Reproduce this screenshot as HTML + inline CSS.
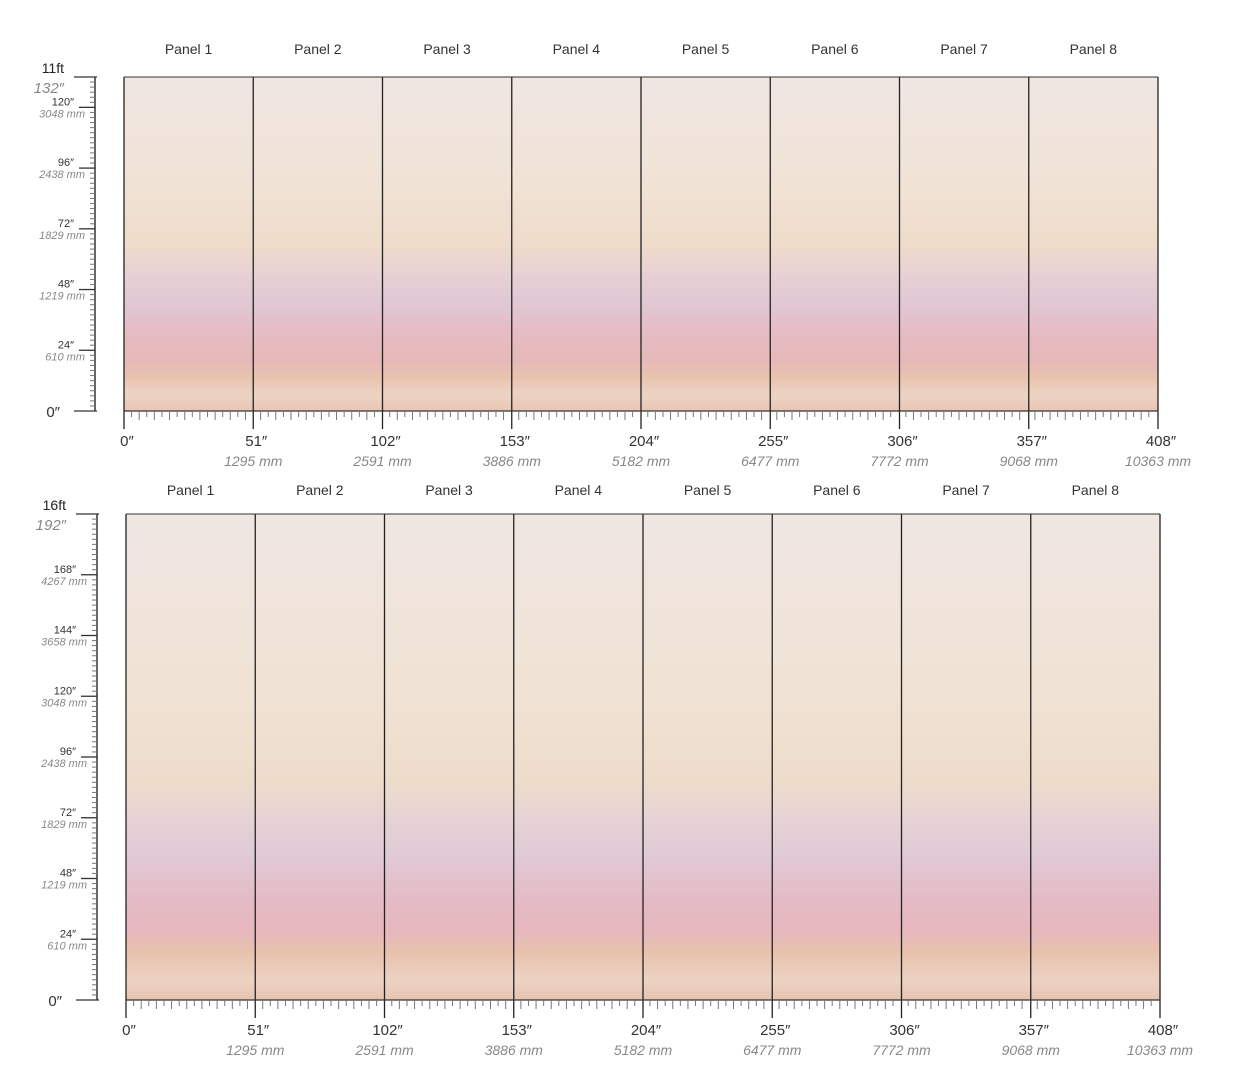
<!DOCTYPE html><html><head><meta charset="utf-8"><style>
body{margin:0;background:#fff;width:1250px;height:1077px;overflow:hidden}
svg{display:block}
text{font-family:"Liberation Sans",sans-serif}
</style></head><body>
<svg id="s" width="1250" height="1077" xmlns="http://www.w3.org/2000/svg">
<defs>
<linearGradient id="g1" x1="0" y1="0" x2="0" y2="1">
<stop offset="0" stop-color="#f0e6e2"/><stop offset="0.3" stop-color="#f0e3d6"/>
<stop offset="0.5" stop-color="#efdccb"/><stop offset="0.6" stop-color="#e6d0d4"/>
<stop offset="0.67" stop-color="#e0c9d5"/><stop offset="0.76" stop-color="#e6bcc4"/>
<stop offset="0.85" stop-color="#e6b9b8"/><stop offset="0.9" stop-color="#e8c3ae"/>
<stop offset="0.95" stop-color="#edd3c4"/><stop offset="1" stop-color="#e8c6b4"/>
</linearGradient>
<linearGradient id="g2" x1="0" y1="0" x2="0" y2="1">
<stop offset="0" stop-color="#f0e6e2"/><stop offset="0.35" stop-color="#f0e3d5"/>
<stop offset="0.55" stop-color="#eedccb"/><stop offset="0.63" stop-color="#e6d2d4"/>
<stop offset="0.7" stop-color="#e0cad6"/><stop offset="0.8" stop-color="#e5bac4"/>
<stop offset="0.86" stop-color="#e6b8bc"/><stop offset="0.9" stop-color="#e8c1ad"/>
<stop offset="0.96" stop-color="#edd2c3"/><stop offset="1" stop-color="#e7c4b2"/>
</linearGradient>
</defs>
<g id="c"></g>
</svg>
<script>
const NS="http://www.w3.org/2000/svg";const c=document.getElementById('c');
function el(t,a,txt){const e=document.createElementNS(NS,t);for(const k in a)e.setAttribute(k,a[k]);if(txt!==undefined)e.textContent=txt;c.appendChild(e);return e;}
function chart(x0,yT,yB,inH,ft,grad,labY){
 const x1=x0+1034,ppi=(yB-yT)/inH;
 el('rect',{x:x0,y:yT,width:1034,height:yB-yT,fill:'url(#'+grad+')'});
 const mm=['','1295 mm','2591 mm','3886 mm','5182 mm','6477 mm','7772 mm','9068 mm','10363 mm'];
 for(let p=0;p<8;p++){el('text',{x:x0+64.6+p*129.25,y:labY,'font-size':14,'text-anchor':'middle',fill:'#333'},'Panel '+(p+1));}
 for(let p=0;p<=8;p++){const x=x0+p*129.25;
  el('line',{x1:x,y1:yT,x2:x,y2:yB+18,stroke:'#222','stroke-width':1.3});
  el('text',{x:x+(p==0?3:3),y:yB+35,'font-size':15,'text-anchor':'middle',fill:'#333'},(p*51)+'″');
  if(p>0)el('text',{x:x,y:yB+55,'font-size':14,'text-anchor':'middle',fill:'#888','font-style':'italic'},mm[p]);}
 el('line',{x1:x0,y1:yT,x2:x1,y2:yT,stroke:'#333','stroke-width':1});
 el('line',{x1:x0,y1:yB,x2:x1,y2:yB,stroke:'#333','stroke-width':1.3});
 for(let i=0;i<=136;i++){const x=x0+i*3*ppi;if(i%17==0)continue;
  el('line',{x1:x,y1:yB,x2:x,y2:yB+(i%2?6:9),stroke:'#777','stroke-width':1});}
 // vertical ruler
 const rx=x0-29;
 el('line',{x1:rx,y1:yT,x2:rx,y2:yB,stroke:'#333','stroke-width':1.5});
 el('line',{x1:x0-50,y1:yT,x2:x0-27,y2:yT,stroke:'#333','stroke-width':1.3});
 el('line',{x1:x0-50,y1:yB,x2:x0-27,y2:yB,stroke:'#333','stroke-width':1.3});
 for(let v=2;v<inH;v+=2){const y=yB-v*ppi;
  if(v%24==0){el('line',{x1:rx-16,y1:y,x2:rx,y2:y,stroke:'#333','stroke-width':1.3});
   el('text',{x:rx-21,y:y-2,'font-size':11,'text-anchor':'end',fill:'#333'},v+'″');
   el('text',{x:rx-10,y:y+10,'font-size':11,'text-anchor':'end',fill:'#888','font-style':'italic'},Math.round(v*25.4)+' mm');}
  else el('line',{x1:rx-5,y1:y,x2:rx,y2:y,stroke:'#777','stroke-width':1});}
 el('text',{x:x0-64,y:yB+6,'font-size':15,'text-anchor':'end',fill:'#333'},'0″');
 el('text',{x:x0-60,y:yT-4,'font-size':14,'text-anchor':'end',fill:'#222'},ft);
 el('text',{x:x0-60,y:yT+16,'font-size':15,'text-anchor':'end',fill:'#888','font-style':'italic'},inH+'″');
}
chart(124,77,411,132,'11ft','g1',54);
chart(126,514,1000,192,'16ft','g2',495);
</script>
</body></html>
